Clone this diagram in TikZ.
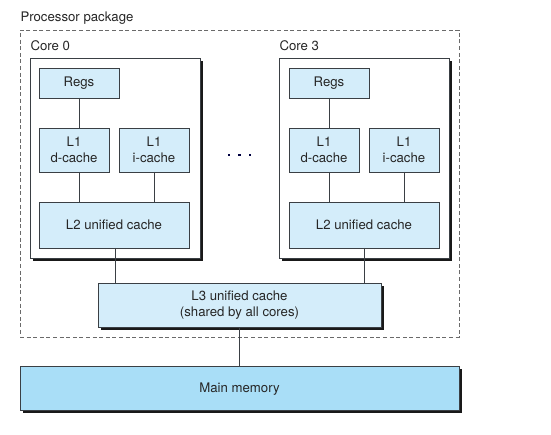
\documentclass[tikz,border=0pt]{standalone}
\usepackage{fontspec}
\setmainfont{TeX Gyre Heros}
\definecolor{lightfill}{HTML}{D4EDFA}
\definecolor{memfill}{HTML}{A9DEF7}
\definecolor{edge}{HTML}{3A3F44}
\definecolor{dashgray}{HTML}{6A6A6A}
\begin{document}
\begin{tikzpicture}[x=1pt,y=-1pt,
  every node/.style={font=\fontsize{13.2}{16.5}\selectfont, text=black!85, align=center, inner sep=0pt, outer sep=0pt},
  box/.style={draw=edge, line width=0.8pt, fill=lightfill, rectangle},
  corebox/.style={draw=edge, line width=0.8pt, fill=white, rectangle},
  shadowed/.style={preaction={fill=black!90, transform canvas={shift={(3.2pt,-3.2pt)}}}},
  link/.style={draw=edge, line width=0.8pt},
  pkg/.style={draw=dashgray, line width=0.9pt, dash pattern=on 4pt off 2.6pt},
  dotsq/.style={fill=black!75!blue, minimum size=2.6pt, rectangle}
]
\useasboundingbox (0,0) rectangle (551,435);

% package
\node[pkg, minimum width=439pt, minimum height=307pt] (pkg) at (239.5,183.5) {};
\node[anchor=west] (pkglabel) at (20.5,18) {Processor package};

% core 0
\node[corebox, shadowed, minimum width=170pt, minimum height=200pt] (core0) at (115,158) {};
\node[anchor=west] (core0label) at (30.5,46) {Core 0};
\node[box, minimum width=80pt, minimum height=30pt] (regs0) at (79,83) {Regs};
\node[box, minimum width=70pt, minimum height=44pt] (l1d0) at (74,150) {L1\\d-cache};
\node[box, minimum width=70pt, minimum height=44pt] (l1i0) at (154,150) {L1\\i-cache};
\node[box, minimum width=150pt, minimum height=46pt] (l20) at (114,225) {L2 unified cache};

% core 3
\node[corebox, shadowed, minimum width=170pt, minimum height=200pt] (core3) at (364,158) {};
\node[anchor=west] (core3label) at (279.5,46) {Core 3};
\node[box, minimum width=80pt, minimum height=30pt] (regs3) at (329,83) {Regs};
\node[box, minimum width=70pt, minimum height=44pt] (l1d3) at (324,150) {L1\\d-cache};
\node[box, minimum width=70pt, minimum height=44pt] (l1i3) at (404,150) {L1\\i-cache};
\node[box, minimum width=150pt, minimum height=46pt] (l23) at (364,225) {L2 unified cache};

% ellipsis
\node[dotsq] (d1) at (229,155) {};
\node[dotsq] (d2) at (239.5,155) {};
\node[dotsq] (d3) at (250,155) {};

% L3
\node[box, shadowed, minimum width=283pt, minimum height=44pt] (l3) at (239.5,305) {L3 unified cache\\(shared by all cores)};

% main memory
\node[box, shadowed, fill=memfill, minimum width=439pt, minimum height=44pt, text depth=0pt] (mem) at (239.5,388) {Main memory};

% connectors
\draw[link] (regs0.south) -- (regs0.south |- l1d0.north);
\draw[link] (l1d0.south -| regs0.south) -- (l20.north -| regs0.south);
\draw[link] (l1i0.south) -- (l1i0.south |- l20.north);
\draw[link] (regs3.south) -- (regs3.south |- l1d3.north);
\draw[link] (l1d3.south -| regs3.south) -- (l23.north -| regs3.south);
\draw[link] (l1i3.south) -- (l1i3.south |- l23.north);
\draw[link] (l20.south -| core0.south) -- (l3.north -| core0.south);
\draw[link] (l23.south -| core3.south) -- (l3.north -| core3.south);
\draw[link] (l3.south) -- (mem.north);
\end{tikzpicture}
\end{document}
